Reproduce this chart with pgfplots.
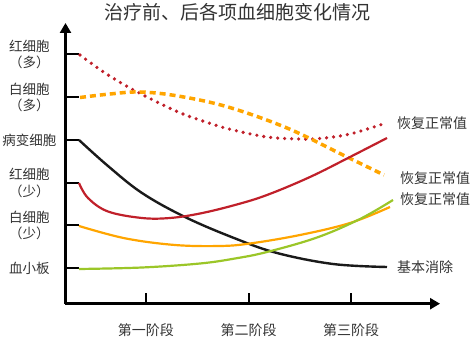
\documentclass[border=0pt]{standalone}
\usepackage{pgfplots}
\pgfplotsset{compat=1.18}
\usetikzlibrary{arrows.meta}
\usepackage{fontspec}
\setmainfont{Noto Sans CJK SC}
\definecolor{txt}{HTML}{333333}
\definecolor{cred}{HTML}{C0202A}
\definecolor{corange}{HTML}{FFA500}
\definecolor{cgreen}{HTML}{9BC628}
\definecolor{cblack}{HTML}{1A1A1A}
\begin{document}
\begin{tikzpicture}
\begin{axis}[
  scale only axis, width=374.5pt, height=280.7pt,
  xmin=65.5, xmax=440, ymin=35.3, ymax=316,
  axis lines=left,
  axis line style={line width=2.5pt, black},
  x axis line style={-{Triangle[length=10pt,width=11pt]}},
  y axis line style={-{Triangle[length=10pt,width=11pt]}},
  tick align=inside,
  major tick length=14pt,
  xtick style={/pgfplots/major tick length=11pt},
  tick style={line width=2pt, black},
  xtick={146,248.7,351},
  xticklabels={第一阶段,第二阶段,第三阶段},
  ytick={70.5,113.5,156,198.5,241.5,284.5},
  yticklabels={血小板, {白细胞\\（少）}, {红细胞\\（少）}, 病变细胞, {白细胞\\（多）}, {红细胞\\（多）}},
  xticklabel style={anchor=center, yshift=-26.5pt, font=\fontsize{14}{16}\selectfont, text=txt},
  yticklabel style={anchor=center, xshift=-36pt, align=center, font=\fontsize{13.5}{16.5}\selectfont, text=txt},
  clip=false,
  enlargelimits=false,
]
% red dotted: RBC high
\addplot[cred, line width=3.6pt, dash pattern=on 0pt off 7pt, line cap=round, smooth, tension=0.6] coordinates {
(80,284) (105,266) (130,251) (157,237) (183,225) (212,215) (233,209) (267,202) (300,200) (320,200.5) (350,205) (386,216)};
% orange dashed: WBC high
\addplot[corange, line width=3.5pt, dash pattern=on 6pt off 4pt, smooth, tension=0.6] coordinates {
(80,241.5) (110,245) (140,247) (178,243) (228,232) (287,211) (343,184) (384,164)};
% black: diseased cells
\addplot[cblack, line width=2.4pt, smooth, tension=0.6] coordinates {
(79,199) (108,173) (142,146) (185,122) (234,101) (277,86) (333,75) (387,72)};
% red solid: RBC low
\addplot[cred, line width=2.2pt, smooth, tension=0.6] coordinates {
(79,156) (88,141) (108,127.5) (142,121) (170,121) (200,125.5) (235,134) (267,144) (310,162) (350,182) (387,201)};
% orange solid: WBC low
\addplot[corange, line width=2.2pt, smooth, tension=0.6] coordinates {
(79,113) (125,100.7) (175,94) (220,93) (250,95.5) (300,104) (350,116) (390,132)};
% green: platelets
\addplot[cgreen, line width=2.2pt, smooth, tension=0.6] coordinates {
(79,70) (142,71.5) (200,75.5) (235,80.5) (267,87) (317,101.5) (360,120) (393,139)};

\node[anchor=west, inner sep=0pt, text=txt, font=\fontsize{14}{16}\selectfont] at (axis cs:397,216.3) {恢复正常值};
\node[anchor=west, inner sep=0pt, text=txt, font=\fontsize{14}{16}\selectfont] at (axis cs:400,161) {恢复正常值};
\node[anchor=west, inner sep=0pt, text=txt, font=\fontsize{14}{16}\selectfont] at (axis cs:400,140) {恢复正常值};
\node[anchor=west, inner sep=0pt, text=txt, font=\fontsize{14}{16}\selectfont] at (axis cs:397,72.3) {基本消除};
\node[inner sep=0pt, text=txt, font=\fontsize{19}{22}\selectfont] at (axis cs:238,327) {治疗前、后各项血细胞变化情况};
\coordinate (bbll) at (axis cs:0,0);
\coordinate (bbur) at (axis cs:471,339);
\end{axis}
\pgfresetboundingbox
\path (bbll) rectangle (bbur);
\end{tikzpicture}
\end{document}
